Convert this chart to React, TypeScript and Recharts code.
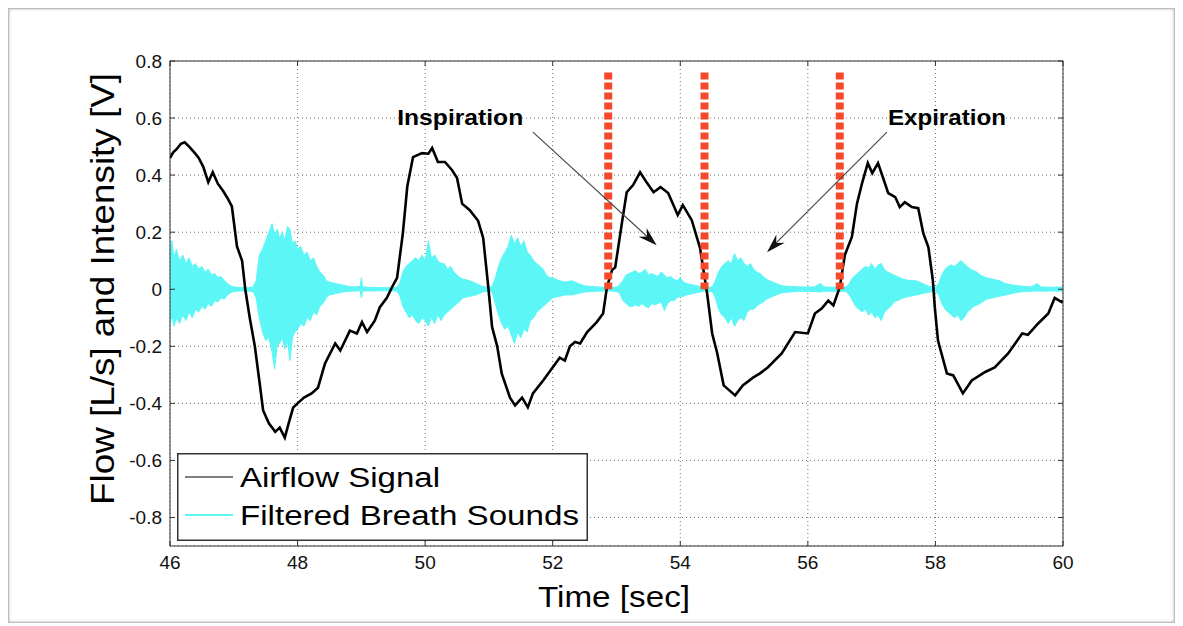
import { ComposedChart, Line, Area, XAxis, YAxis, CartesianGrid, ReferenceLine, ReferenceDot, Legend } from 'recharts';

const FONT = '"Liberation Sans", Arial, Helvetica, sans-serif';

const X_TICKS = [46, 48, 50, 52, 54, 56, 58, 60];
const Y_TICKS = [-0.8, -0.6, -0.4, -0.2, 0, 0.2, 0.4, 0.6, 0.8];

// Airflow signal (black)
const airTime = [
  46.0, 46.05, 46.1, 46.17, 46.23, 46.3, 46.39, 46.45, 46.52, 46.6, 46.67, 46.75, 46.83, 46.9, 46.97,
  47.05, 47.13, 47.18, 47.25, 47.33, 47.4, 47.46, 47.55, 47.65, 47.72, 47.8, 47.86, 47.93,
  48.0, 48.1, 48.22, 48.32, 48.43, 48.59, 48.67, 48.82, 48.93, 49.01, 49.09, 49.21, 49.29, 49.4,
  49.48, 49.56, 49.65, 49.72, 49.81, 49.95, 50.05, 50.11, 50.2, 50.31, 50.42, 50.5, 50.58, 50.7,
  50.83, 50.91, 50.99, 51.05, 51.13, 51.2, 51.33, 51.41, 51.52, 51.61, 51.69, 51.85, 51.99, 52.11,
  52.19, 52.27, 52.35, 52.43, 52.54, 52.69, 52.79, 52.85, 52.93, 52.98, 53.09, 53.16, 53.26, 53.37,
  53.48, 53.58, 53.69, 53.81, 53.96, 54.04, 54.18, 54.31, 54.39, 54.42, 54.5, 54.58, 54.68, 54.86,
  54.98, 55.14, 55.25, 55.37, 55.59, 55.8, 56.0, 56.11, 56.22, 56.32, 56.4, 56.5, 56.58, 56.69,
  56.77, 56.85, 56.94, 57.01, 57.1, 57.18, 57.26, 57.37, 57.44, 57.52, 57.63, 57.73, 57.81, 57.89,
  57.96, 57.99, 58.04, 58.18, 58.28, 58.43, 58.57, 58.78, 58.93, 59.14, 59.36, 59.45, 59.61, 59.77,
  59.87, 59.98, 60.0,
];
const airFlow = [
  0.46, 0.48, 0.49, 0.51, 0.515, 0.5, 0.477, 0.46, 0.43, 0.375, 0.41, 0.37, 0.345, 0.32, 0.29,
  0.15, 0.1, 0.0, -0.1, -0.2, -0.32, -0.425, -0.47, -0.5, -0.485, -0.52, -0.47, -0.415,
  -0.4, -0.38, -0.365, -0.345, -0.26, -0.19, -0.215, -0.145, -0.155, -0.115, -0.15, -0.11, -0.063, -0.03,
  0.007, 0.04, 0.195, 0.36, 0.463, 0.477, 0.475, 0.495, 0.446, 0.446, 0.418, 0.39, 0.3, 0.277,
  0.24, 0.18, 0.007, -0.133, -0.2, -0.295, -0.38, -0.407, -0.38, -0.414, -0.365, -0.32, -0.277, -0.24,
  -0.25, -0.2, -0.185, -0.19, -0.15, -0.115, -0.085, 0.007, 0.067, 0.077, 0.24, 0.34, 0.365, 0.41,
  0.372, 0.34, 0.358, 0.337, 0.26, 0.295, 0.242, 0.144, 0.03, -0.014, -0.155, -0.225, -0.337, -0.372,
  -0.337, -0.31, -0.295, -0.274, -0.225, -0.15, -0.155, -0.085, -0.067, -0.04, -0.057, 0.007, 0.12, 0.183,
  0.3, 0.372, 0.442, 0.407, 0.442, 0.39, 0.337, 0.323, 0.288, 0.305, 0.288, 0.284, 0.196, 0.147,
  0.03, -0.063, -0.18, -0.295, -0.302, -0.365, -0.32, -0.29, -0.274, -0.225, -0.155, -0.16, -0.12, -0.085,
  -0.03, -0.045, -0.04,
];

// Filtered breath sounds (cyan): upper / lower envelope of the oscillation
const soundTime = [
  46.0, 46.03, 46.06, 46.1, 46.15, 46.2, 46.25, 46.3, 46.35, 46.4, 46.45, 46.5, 46.55, 46.6, 46.65,
  46.7, 46.75, 46.8, 46.85, 46.9, 46.95, 47.0, 47.1, 47.2, 47.3, 47.35, 47.4, 47.45, 47.5, 47.55,
  47.6, 47.64, 47.68, 47.72, 47.76, 47.8, 47.84, 47.88, 47.92, 47.96, 48.0, 48.05, 48.1, 48.15, 48.2,
  48.25, 48.3, 48.35, 48.4, 48.45, 48.5, 48.6, 48.7, 48.8, 48.9, 48.98, 49.0, 49.02, 49.2, 49.4,
  49.55, 49.6, 49.65, 49.7, 49.75, 49.8, 49.85, 49.9, 49.95, 50.0, 50.05, 50.1, 50.15, 50.2, 50.25,
  50.3, 50.35, 50.4, 50.45, 50.5, 50.55, 50.6, 50.7, 50.8, 50.9, 51.0, 51.05, 51.1, 51.15, 51.2,
  51.25, 51.3, 51.35, 51.4, 51.45, 51.5, 51.55, 51.6, 51.65, 51.7, 51.75, 51.8, 51.85, 51.9, 51.95,
  52.0, 52.1, 52.2, 52.3, 52.4, 52.5, 52.6, 52.7, 52.8, 52.9, 53.0, 53.05, 53.1, 53.15, 53.2,
  53.25, 53.3, 53.35, 53.4, 53.45, 53.5, 53.55, 53.6, 53.65, 53.7, 53.75, 53.8, 53.85, 53.9, 53.95,
  54.0, 54.05, 54.1, 54.2, 54.3, 54.4, 54.5, 54.55, 54.6, 54.65, 54.7, 54.75, 54.8, 54.85, 54.9,
  54.95, 55.0, 55.05, 55.1, 55.15, 55.2, 55.25, 55.3, 55.35, 55.4, 55.5, 55.6, 55.7, 55.9, 56.1,
  56.2, 56.25, 56.4, 56.6, 56.65, 56.7, 56.75, 56.8, 56.85, 56.9, 56.95, 57.0, 57.05, 57.1, 57.15,
  57.2, 57.25, 57.3, 57.35, 57.4, 57.5, 57.6, 57.7, 57.8, 57.9, 58.0, 58.05, 58.1, 58.15, 58.2,
  58.25, 58.3, 58.35, 58.4, 58.45, 58.5, 58.55, 58.6, 58.65, 58.7, 58.8, 58.9, 59.0, 59.1, 59.2,
  59.3, 59.4, 59.5, 59.6, 59.65, 59.8, 60.0,
];
const soundUpper = [
  0.13, 0.17, 0.11, 0.14, 0.1, 0.12, 0.09, 0.11, 0.08, 0.09, 0.07, 0.08, 0.06, 0.07, 0.05,
  0.055, 0.04, 0.045, 0.03, 0.02, 0.012, 0.008, 0.006, 0.005, 0.008, 0.03, 0.12, 0.14, 0.17, 0.2,
  0.23, 0.19, 0.21, 0.18, 0.2, 0.17, 0.22, 0.21, 0.16, 0.17, 0.14, 0.15, 0.12, 0.13, 0.1,
  0.11, 0.08, 0.06, 0.05, 0.03, 0.025, 0.02, 0.015, 0.01, 0.008, 0.01, 0.04, 0.008, 0.006, 0.005,
  0.006, 0.02, 0.06, 0.08, 0.09, 0.1, 0.11, 0.1, 0.12, 0.1, 0.17, 0.11, 0.12, 0.1, 0.09,
  0.09, 0.07, 0.08, 0.06, 0.05, 0.04, 0.035, 0.03, 0.02, 0.01, 0.006, 0.01, 0.04, 0.08, 0.11,
  0.13, 0.15, 0.19, 0.16, 0.18, 0.15, 0.17, 0.13, 0.12, 0.1, 0.09, 0.08, 0.07, 0.05, 0.04,
  0.04, 0.03, 0.025, 0.03, 0.02, 0.012, 0.01, 0.008, 0.007, 0.006, 0.008, 0.015, 0.03, 0.05, 0.055,
  0.06, 0.065, 0.055, 0.06, 0.07, 0.05, 0.055, 0.05, 0.045, 0.06, 0.05, 0.04, 0.045, 0.035, 0.03,
  0.04, 0.025, 0.02, 0.015, 0.01, 0.006, 0.008, 0.03, 0.06, 0.08, 0.09, 0.1, 0.09, 0.125, 0.1,
  0.11, 0.09, 0.08, 0.09, 0.07, 0.06, 0.055, 0.045, 0.035, 0.03, 0.02, 0.012, 0.01, 0.008, 0.008,
  0.02, 0.008, 0.007, 0.008, 0.02, 0.04, 0.05, 0.06, 0.07, 0.08, 0.075, 0.09, 0.07, 0.085, 0.09,
  0.07, 0.06, 0.055, 0.05, 0.045, 0.035, 0.03, 0.03, 0.02, 0.01, 0.007, 0.02, 0.05, 0.07, 0.08,
  0.085, 0.08, 0.09, 0.1, 0.09, 0.08, 0.07, 0.065, 0.06, 0.05, 0.04, 0.035, 0.03, 0.02, 0.015,
  0.012, 0.01, 0.008, 0.02, 0.008, 0.007, 0.008,
];
const soundLower = [
  -0.12, -0.09, -0.13, -0.1, -0.12, -0.09, -0.11, -0.08, -0.1, -0.07, -0.08, -0.06, -0.07, -0.05, -0.06,
  -0.04, -0.045, -0.03, -0.035, -0.02, -0.012, -0.008, -0.006, -0.006, -0.008, -0.03, -0.1, -0.15, -0.18, -0.17,
  -0.22, -0.28, -0.2, -0.19, -0.17, -0.21, -0.18, -0.25, -0.17, -0.15, -0.14, -0.12, -0.13, -0.1, -0.11,
  -0.08, -0.09, -0.06, -0.05, -0.03, -0.02, -0.015, -0.01, -0.008, -0.006, -0.005, -0.03, -0.006, -0.006, -0.005,
  -0.006, -0.02, -0.06, -0.08, -0.1, -0.09, -0.11, -0.12, -0.1, -0.11, -0.13, -0.1, -0.12, -0.09, -0.11,
  -0.09, -0.08, -0.07, -0.06, -0.05, -0.04, -0.03, -0.025, -0.02, -0.01, -0.006, -0.01, -0.05, -0.09, -0.12,
  -0.14, -0.13, -0.16, -0.19, -0.15, -0.17, -0.14, -0.15, -0.11, -0.1, -0.08, -0.07, -0.06, -0.05, -0.04,
  -0.03, -0.025, -0.02, -0.02, -0.015, -0.01, -0.008, -0.007, -0.006, -0.006, -0.008, -0.015, -0.04, -0.05, -0.06,
  -0.06, -0.055, -0.06, -0.05, -0.06, -0.065, -0.05, -0.055, -0.05, -0.045, -0.075, -0.05, -0.04, -0.04, -0.03,
  -0.025, -0.025, -0.02, -0.015, -0.01, -0.006, -0.008, -0.03, -0.07, -0.09, -0.1, -0.12, -0.1, -0.13, -0.11,
  -0.1, -0.11, -0.08, -0.07, -0.07, -0.06, -0.05, -0.045, -0.035, -0.03, -0.02, -0.012, -0.01, -0.007, -0.008,
  -0.01, -0.007, -0.007, -0.008, -0.02, -0.04, -0.06, -0.07, -0.08, -0.07, -0.09, -0.08, -0.1, -0.09, -0.11,
  -0.08, -0.07, -0.06, -0.045, -0.04, -0.03, -0.025, -0.02, -0.015, -0.01, -0.007, -0.02, -0.05, -0.07, -0.08,
  -0.09, -0.1, -0.09, -0.11, -0.1, -0.08, -0.07, -0.06, -0.055, -0.05, -0.035, -0.03, -0.025, -0.02, -0.015,
  -0.01, -0.008, -0.007, -0.006, -0.007, -0.006, -0.007,
];

// Phase markers (red dashed) and annotations
const markerTimes = [52.87, 54.38, 56.5];
const markerTop = 0.76;
const annotations = [
  { text: 'Inspiration', t: 50.55, v: 0.603, width: 126, from: [51.69, 0.551], to: [53.63, 0.154] },
  { text: 'Expiration', t: 58.18, v: 0.603, width: 118, from: [57.24, 0.551], to: [55.36, 0.13] },
];

const legendItems = [
  { label: 'Airflow Signal', color: '#000000', width: 1.2 },
  { label: 'Filtered Breath Sounds', color: '#5cf6f6', width: 2 },
];

const airData = airTime.map((t, i) => ({ t, flow: airFlow[i] }));
const soundData = soundTime.map((t, i) => ({ t, range: [soundLower[i], soundUpper[i]] }));

const fmtY = (v: number) => (v === 0 ? '0' : v.toFixed(1));

function Arrow(props: any) {
  const { x1, y1, x2, y2 } = props;
  const ang = Math.atan2(y2 - y1, x2 - x1);
  const len = 20;
  const spread = 0.3;
  const ax = x2 - len * Math.cos(ang - spread);
  const ay = y2 - len * Math.sin(ang - spread);
  const bx = x2 - len * Math.cos(ang + spread);
  const by = y2 - len * Math.sin(ang + spread);
  const mx = x2 - len * 0.65 * Math.cos(ang);
  const my = y2 - len * 0.65 * Math.sin(ang);
  return (
    <g>
      <line x1={x1} y1={y1} x2={mx} y2={my} stroke="#444" strokeWidth={1.1} />
      <path d={`M${x2},${y2} L${ax},${ay} L${mx},${my} L${bx},${by} Z`} fill="#111" />
    </g>
  );
}

function LegendBox() {
  return (
    <svg width={411} height={88} style={{ display: 'block' }}>
      <rect x={0.75} y={0.75} width={409.5} height={86.5} fill="#fff" stroke="#333" strokeWidth={1.5} />
      {legendItems.map((it, i) => (
        <g key={it.label}>
          <line x1={8} x2={56} y1={24 + i * 38} y2={24 + i * 38} stroke={it.color} strokeWidth={it.width} />
          <text
            x={63}
            y={34 + i * 38}
            fontSize={27}
            fontFamily={FONT}
            fill="#000"
            textLength={i === 0 ? 200 : 339}
            lengthAdjust="spacingAndGlyphs"
          >
            {it.label}
          </text>
        </g>
      ))}
    </svg>
  );
}

export default function App() {
  return (
    <div
      style={{
        position: 'relative',
        boxSizing: 'border-box',
        width: 1167,
        height: 615,
        border: '1px solid #bdbdbd',
        boxShadow: 'inset 0 0 3px rgba(0,0,0,0.3)',
        background: '#fff',
      }}
    >
      <div style={{ position: 'absolute', left: -9, top: -9 }}>
        <ComposedChart width={1183} height={626} margin={{ top: 60, right: 119, bottom: 50, left: 110 }}>
          <CartesianGrid stroke="#6f6f6f" strokeDasharray="1 3" strokeWidth={1} />
          <XAxis
            type="number"
            dataKey="t"
            domain={[46, 60]}
            ticks={X_TICKS}
            allowDataOverflow
            height={30}
            tickSize={-5}
            tickMargin={15}
            stroke="#333"
            tick={{ fontSize: 19, fill: '#111', fontFamily: FONT }}
            label={{
              content: () => (
                <text x={614} y={607} textAnchor="middle" fontSize={30} fontFamily={FONT} fill="#000" textLength={152} lengthAdjust="spacingAndGlyphs">
                  Time [sec]
                </text>
              ),
            }}
          />
          <XAxis
            xAxisId="top"
            orientation="top"
            type="number"
            dataKey="t"
            domain={[46, 60]}
            ticks={X_TICKS}
            allowDataOverflow
            height={1}
            tickSize={-5}
            stroke="#333"
            tickFormatter={() => ''}
          />
          <YAxis
            type="number"
            domain={[-0.9, 0.8]}
            ticks={Y_TICKS}
            allowDataOverflow
            width={60}
            tickSize={-5}
            tickMargin={13}
            stroke="#333"
            tickFormatter={fmtY}
            tick={{ fontSize: 19, fill: '#111', fontFamily: FONT }}
            label={{
              content: () => (
                <text
                  x={0}
                  y={0}
                  transform="translate(114,289) rotate(-90)"
                  textAnchor="middle"
                  fontSize={33}
                  fontFamily={FONT}
                  fill="#000"
                  textLength={432}
                  lengthAdjust="spacingAndGlyphs"
                >
                  Flow [L/s] and Intensity [V]
                </text>
              ),
            }}
          />
          <YAxis
            yAxisId="right"
            orientation="right"
            type="number"
            domain={[-0.9, 0.8]}
            ticks={Y_TICKS}
            allowDataOverflow
            width={1}
            tickSize={-5}
            stroke="#333"
            tickFormatter={() => ''}
          />
          <Area
            data={soundData}
            dataKey="range"
            type="linear"
            stroke="#5cf6f6"
            strokeWidth={1}
            fill="#5cf6f6"
            fillOpacity={1}
            isAnimationActive={false}
            dot={false}
            activeDot={false}
          />
          <Line
            data={airData}
            dataKey="flow"
            type="linear"
            stroke="#000"
            strokeWidth={2.6}
            dot={false}
            activeDot={false}
            isAnimationActive={false}
          />
          {markerTimes.map((t) => (
            <ReferenceLine
              key={t}
              segment={[{ x: t, y: markerTop }, { x: t, y: 0 }]}
              stroke="#f4492b"
              strokeWidth={8}
              strokeDasharray="7 3"
            />
          ))}
          {annotations.map((a) => (
            <ReferenceLine
              key={a.text + 'arrow'}
              segment={[{ x: a.from[0], y: a.from[1] }, { x: a.to[0], y: a.to[1] }]}
              shape={(p: any) => <Arrow {...p} />}
            />
          ))}
          {annotations.map((a) => (
            <ReferenceDot
              key={a.text}
              x={a.t}
              y={a.v}
              r={0}
              shape={(p: any) => (
                <text
                  x={p.cx}
                  y={p.cy + 8}
                  textAnchor="middle"
                  fontSize={22}
                  fontWeight="bold"
                  fontFamily={FONT}
                  fill="#000"
                  textLength={a.width}
                  lengthAdjust="spacingAndGlyphs"
                >
                  {a.text}
                </text>
              )}
            />
          ))}
          <Legend
            layout="horizontal"
            verticalAlign="middle"
            align="center"
            wrapperStyle={{ left: 177, top: 453, width: 411, height: 88 }}
            content={() => <LegendBox />}
          />
        </ComposedChart>
      </div>
    </div>
  );
}
